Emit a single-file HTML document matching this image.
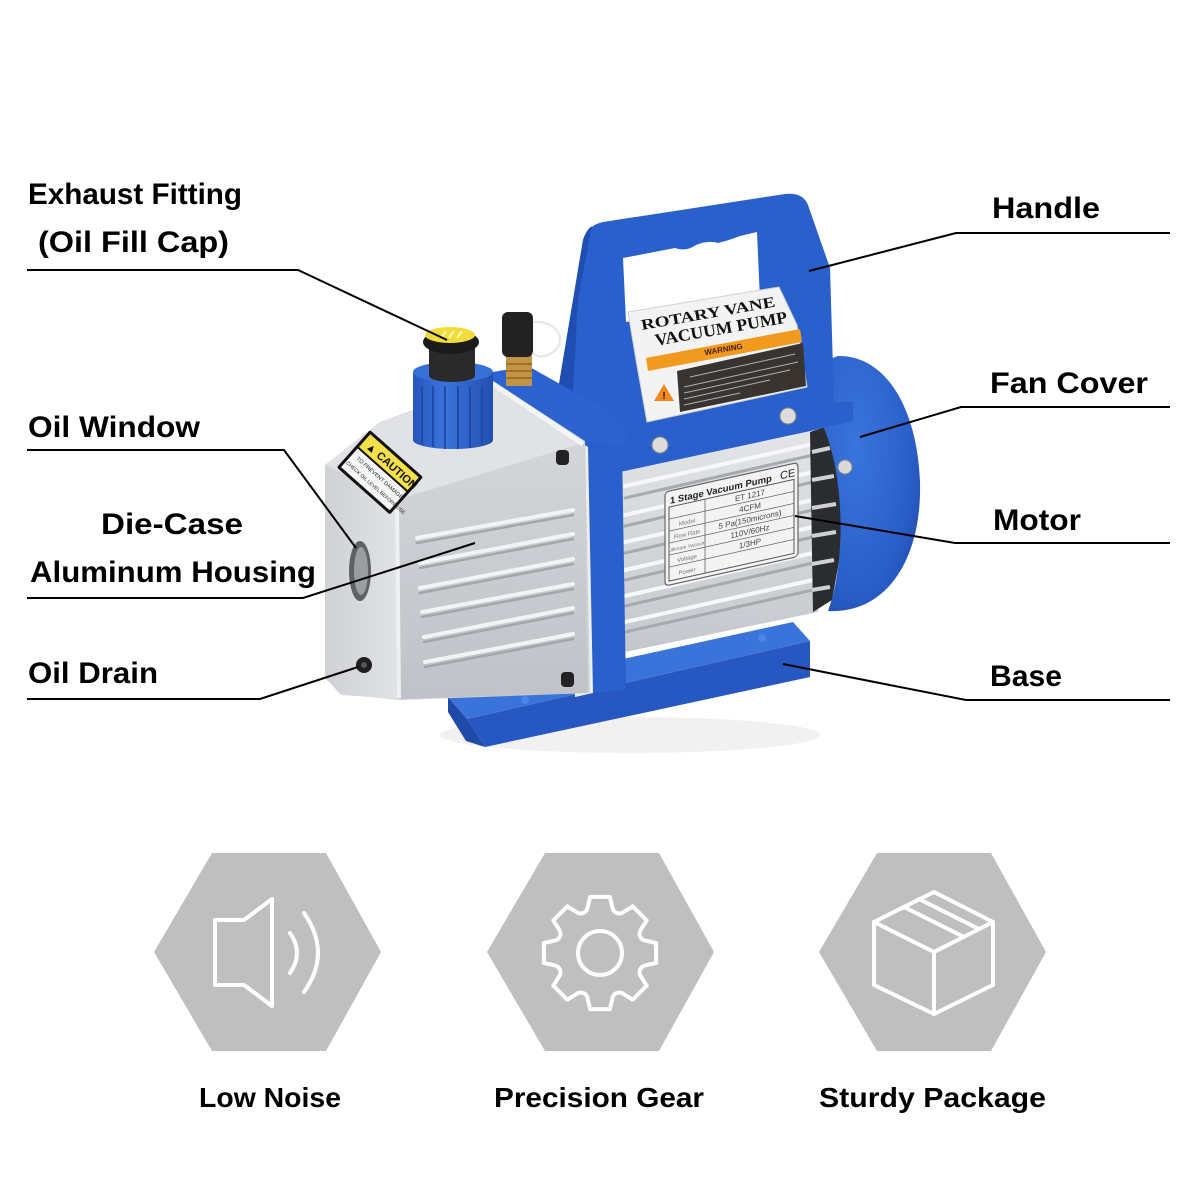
<!DOCTYPE html>
<html><head><meta charset="utf-8"><style>
html,body{margin:0;padding:0;background:#fff;}
svg{display:block;}
text{font-family:"Liberation Sans",Arial,sans-serif;}
</style></head><body>
<svg width="1200" height="1200" viewBox="0 0 1200 1200" xmlns="http://www.w3.org/2000/svg">
<defs>
<linearGradient id="motorG" x1="0" y1="0" x2="0" y2="1"><stop offset="0" stop-color="#e4e5e8"/><stop offset="1" stop-color="#c4c7cc"/></linearGradient>
<linearGradient id="sideG" x1="0" y1="0" x2="0" y2="1"><stop offset="0" stop-color="#d3d5d9"/><stop offset="1" stop-color="#bfc2c7"/></linearGradient>
<linearGradient id="endG" x1="0" y1="0" x2="1" y2="0"><stop offset="0" stop-color="#cfd1d5"/><stop offset="1" stop-color="#e2e3e6"/></linearGradient>
<radialGradient id="fanG" cx="0.35" cy="0.35" r="0.8"><stop offset="0" stop-color="#3a74dc"/><stop offset="0.7" stop-color="#2a5fca"/><stop offset="1" stop-color="#1e4da9"/></radialGradient>
<linearGradient id="capG" x1="0" y1="0" x2="1" y2="0"><stop offset="0" stop-color="#2656bd"/><stop offset="0.4" stop-color="#3a74dc"/><stop offset="1" stop-color="#234fb0"/></linearGradient>
</defs>
<rect width="1200" height="1200" fill="#fff"/>

<!-- BASE -->
<ellipse cx="630" cy="735" rx="190" ry="18" fill="#f1f1f1"/>
<polygon points="448,697 793,622 810,641 467,719" fill="#3a74da"/>
<polygon points="467,719 810,641 810,677 485,747" fill="#2757c0"/>
<polygon points="448,697 467,719 485,747 466,741 448,712" fill="#1f4aa8"/>
<circle cx="525" cy="700" r="4" fill="#4a84e6"/>
<circle cx="762" cy="638" r="4" fill="#4a84e6"/>

<!-- MOTOR -->
<polygon points="620,470 815,428 818,612 625,652" fill="url(#motorG)"/>
<g stroke-linecap="round">
<line x1="625" y1="486" x2="813" y2="444" stroke="#f6f7f8" stroke-width="4"/>
<line x1="625" y1="498" x2="813" y2="455" stroke="#a6a9ae" stroke-width="3"/>
<line x1="625" y1="515" x2="813" y2="472" stroke="#f6f7f8" stroke-width="4"/>
<line x1="625" y1="526" x2="813" y2="482" stroke="#a6a9ae" stroke-width="3"/>
<line x1="625" y1="542" x2="813" y2="500" stroke="#f6f7f8" stroke-width="4"/>
<line x1="625" y1="553" x2="813" y2="510" stroke="#a6a9ae" stroke-width="3"/>
<line x1="625" y1="570" x2="813" y2="527" stroke="#f6f7f8" stroke-width="4"/>
<line x1="625" y1="580" x2="813" y2="537" stroke="#a6a9ae" stroke-width="3"/>
<line x1="625" y1="596" x2="813" y2="553" stroke="#f6f7f8" stroke-width="4"/>
<line x1="625" y1="606" x2="813" y2="563" stroke="#a6a9ae" stroke-width="3"/>
<line x1="625" y1="622" x2="813" y2="580" stroke="#f6f7f8" stroke-width="4"/>
<line x1="625" y1="632" x2="813" y2="590" stroke="#a6a9ae" stroke-width="3"/>
</g>
<!-- dark gap -->
<polygon points="810,432 828,426 842,480 843,540 832,600 813,612" fill="#2b2c30"/>
<g stroke="#cfd1d4" stroke-width="4">
<line x1="812" y1="452" x2="830" y2="448"/><line x1="812" y1="480" x2="834" y2="476"/>
<line x1="812" y1="508" x2="836" y2="504"/><line x1="812" y1="536" x2="836" y2="532"/>
<line x1="812" y1="564" x2="834" y2="560"/><line x1="812" y1="590" x2="830" y2="587"/>
</g>

<!-- FAN COVER -->
<path d="M 822 424 C 844 470, 847 560, 828 611 C 886 614, 922 560, 920 482 C 917 405, 884 355, 838 356 L 822 362 Z" fill="url(#fanG)"/>
<circle cx="845" cy="467" r="7" fill="#d9d9d9" stroke="#8a8a8a" stroke-width="1"/>

<!-- HANDLE -->
<path d="M 556 445 L 558 390 L 583 240 Q 588 225 603 222 L 785 194 Q 803 192 808 205 L 830 268 L 834 402 L 853 402 L 853 421 L 815 430 L 620 472 L 592 446 Z" fill="#2a60cc"/>
<path d="M 556 445 L 558 390 L 583 240 Q 586 230 592 226 L 578 300 L 570 445 Z" fill="#1f4fb3"/>
<path d="M 623 258 L 675 248 Q 686 252 696 245 Q 708 240 718 243 Q 730 240 740 236 L 757 232 L 760 300 L 626 322 Z" fill="#fff"/>
<!-- label on handle -->
<polygon points="628,312 779,287 797,325 807,387 647,422 636,360" fill="#f3f3f3" stroke="#d0d0d0" stroke-width="1"/>
<g transform="translate(642,330) rotate(-10)">
<text x="0" y="0" font-family="Liberation Serif,serif" font-weight="bold" font-size="15" textLength="136" lengthAdjust="spacingAndGlyphs" fill="#111" style="font-family:'Liberation Serif',serif">ROTARY VANE</text>
<text x="11" y="18" font-family="Liberation Serif,serif" font-weight="bold" font-size="17" textLength="134" lengthAdjust="spacingAndGlyphs" fill="#111" style="font-family:'Liberation Serif',serif">VACUUM PUMP</text>
</g>
<polygon points="646,358 800,329 802,342 648,371" fill="#f29a1f"/>
<text transform="translate(724,352) rotate(-10)" text-anchor="middle" font-size="8" font-weight="bold" fill="#4a2000">WARNING</text>
<polygon points="677,371 803,343 806,386 680,412" fill="#3a3431"/>
<g stroke="#cfcfcf" stroke-width="1" opacity="0.8">
<line x1="690" y1="377" x2="795" y2="354"/><line x1="684" y1="387" x2="798" y2="362"/>
<line x1="684" y1="393" x2="790" y2="370"/><line x1="684" y1="399" x2="770" y2="380"/>
<line x1="684" y1="405" x2="740" y2="393"/>
</g>
<polygon points="664,384 674,401 654,401" fill="#f08a1c"/>
<text x="664" y="399" text-anchor="middle" font-size="10" font-weight="bold" fill="#111">!</text>
<!-- screws -->
<circle cx="660" cy="445" r="8" fill="#dcdcdc" stroke="#8a8a8a" stroke-width="1"/>
<circle cx="788" cy="416" r="8" fill="#dcdcdc" stroke="#8a8a8a" stroke-width="1"/>

<!-- MOTOR LABEL -->
<g transform="translate(665,492) skewY(-12.5)">
<rect x="0" y="0" width="133" height="94" rx="4" fill="#f3f3f3" stroke="#666" stroke-width="1.2"/>
<rect x="4" y="16" width="125" height="74" fill="none" stroke="#555" stroke-width="1"/>
<text x="5" y="13" font-size="9.5" font-weight="bold" fill="#222">1 Stage Vacuum Pump</text>
<text x="115" y="13" font-size="11" fill="#222">CE</text>
<g stroke="#666" stroke-width="0.8">
<line x1="4" y1="28" x2="129" y2="28"/><line x1="4" y1="40" x2="129" y2="40"/>
<line x1="4" y1="52" x2="129" y2="52"/><line x1="4" y1="64" x2="129" y2="64"/>
<line x1="4" y1="76" x2="129" y2="76"/><line x1="40" y1="16" x2="40" y2="90"/>
</g>
<g font-size="6" fill="#777" text-anchor="middle">
<text x="22" y="37">Model</text><text x="22" y="49">Flow Rate</text>
<text x="22" y="61" font-size="5">Ultimate Vacuum</text><text x="22" y="73">Voltage</text><text x="22" y="86">Power</text>
</g>
<g font-size="8" fill="#444" text-anchor="middle">
<text x="85" y="25">ET 1217</text><text x="85" y="37">4CFM</text>
<text x="85" y="49">5 Pa(150microns)</text><text x="85" y="61">110V/60Hz</text><text x="85" y="73">1/3HP</text>
</g>
</g>

<!-- BLUE END PLATE -->
<polygon points="493,372 528,366 606,410 627,432 622,447 587,441 493,385" fill="#2d63d0"/>
<polygon points="587,440 622,447 626,690 592,693" fill="#2a60cc"/>
<polygon points="570,445 588,447 593,693 575,697" fill="#eceef0"/>

<!-- HOUSING -->
<polygon points="325,465 380,422 493,381 585,441 590,693 400,700 340,694 325,677" fill="#cfd1d5"/>
<polygon points="325,465 380,422 493,383 583,443 397,500" fill="#e1e2e5"/>
<polygon points="397,500 583,443 588,693 399,699" fill="url(#sideG)"/>
<polygon points="325,465 397,500 399,699 342,695 325,678" fill="url(#endG)"/>
<line x1="397" y1="500" x2="399" y2="698" stroke="#eef0f2" stroke-width="4"/>
<line x1="493" y1="384" x2="583" y2="444" stroke="#f3f4f6" stroke-width="5"/>
<g stroke-linecap="round">
<line x1="417" y1="538" x2="573" y2="510" stroke="#f2f3f5" stroke-width="4"/>
<line x1="417" y1="543" x2="573" y2="515" stroke="#a3a6ab" stroke-width="2.5"/>
<line x1="420" y1="563" x2="573" y2="534" stroke="#f2f3f5" stroke-width="4"/>
<line x1="420" y1="568" x2="573" y2="539" stroke="#a3a6ab" stroke-width="2.5"/>
<line x1="420" y1="588" x2="573" y2="559" stroke="#f2f3f5" stroke-width="4"/>
<line x1="420" y1="593" x2="573" y2="564" stroke="#a3a6ab" stroke-width="2.5"/>
<line x1="422" y1="612" x2="573" y2="584" stroke="#f2f3f5" stroke-width="4"/>
<line x1="422" y1="617" x2="573" y2="589" stroke="#a3a6ab" stroke-width="2.5"/>
<line x1="424" y1="637" x2="573" y2="608" stroke="#f2f3f5" stroke-width="4"/>
<line x1="424" y1="642" x2="573" y2="613" stroke="#a3a6ab" stroke-width="2.5"/>
<line x1="425" y1="662" x2="573" y2="634" stroke="#f2f3f5" stroke-width="4"/>
<line x1="425" y1="667" x2="573" y2="639" stroke="#a3a6ab" stroke-width="2.5"/>
</g>
<!-- screws on housing -->
<rect x="556" y="450" width="13" height="15" rx="4" fill="#222"/>
<rect x="561" y="672" width="13" height="15" rx="4" fill="#222"/>
<!-- caution label -->
<g transform="translate(370,430) rotate(41.6)">
<rect x="0" y="0" width="71" height="50" rx="2" fill="#111"/>
<rect x="3" y="3" width="65" height="17" fill="#f4e04a"/>
<text x="8" y="16" font-size="11" font-weight="bold" fill="#111">▲ CAUTION</text>
<rect x="3" y="22" width="65" height="25" fill="#f7f7f7"/>
<text x="9" y="31" font-size="5.5" fill="#222">TO PREVENT DAMAGE</text>
<text x="4" y="41" font-size="5" fill="#222">CHECK OIL LEVEL BEFORE USE</text>
</g>
<!-- oil window -->
<ellipse cx="360" cy="571" rx="11" ry="30" fill="#5f6164"/>
<ellipse cx="361" cy="571" rx="7" ry="24" fill="#9a9da1"/>
<!-- oil drain -->
<circle cx="364" cy="665" r="8" fill="#1e1e1e"/>
<circle cx="364" cy="665" r="3" fill="#555"/>

<!-- OIL CAP -->
<path d="M 413 372 L 413 440 A 40 9 0 0 0 493 440 L 493 372 Z" fill="url(#capG)"/>
<ellipse cx="453" cy="372" rx="40" ry="10" fill="#3670d8"/>
<g stroke="#1f4aa6" stroke-width="2">
<line x1="422" y1="386" x2="422" y2="444"/><line x1="433" y1="386" x2="433" y2="447"/>
<line x1="445" y1="386" x2="445" y2="449"/><line x1="458" y1="386" x2="458" y2="449"/>
<line x1="470" y1="386" x2="470" y2="448"/><line x1="482" y1="386" x2="482" y2="445"/>
</g>
<rect x="429" y="342" width="46" height="34" fill="#2a2a2a"/>
<ellipse cx="452" cy="376" rx="23" ry="6" fill="#2a2a2a"/>
<ellipse cx="451" cy="342" rx="28" ry="12" fill="#1b1b1b"/>
<ellipse cx="450" cy="335" rx="25" ry="8" fill="#f2dc3c"/>
<g stroke="#fff6b0" stroke-width="2"><line x1="441" y1="338" x2="446" y2="331"/><line x1="449" y1="338" x2="454" y2="331"/><line x1="457" y1="338" x2="462" y2="331"/></g>
<!-- brass fitting -->
<rect x="506" y="355" width="26" height="31" fill="#c39447"/>
<g stroke="#8d6421" stroke-width="1.5"><line x1="506" y1="364" x2="532" y2="364"/><line x1="506" y1="371" x2="532" y2="371"/><line x1="506" y1="378" x2="532" y2="378"/></g>
<rect x="502" y="312" width="31" height="45" rx="6" fill="#222"/>
<path d="M 533 322 C 560 320, 570 345, 548 355 C 540 358, 535 356, 533 352" fill="none" stroke="#e6e6e6" stroke-width="2"/>

<!-- LEADER LINES -->
<g fill="none" stroke="#000" stroke-width="2">
<polyline points="27,270 298,270 447,340"/>
<polyline points="27,450 284,450 356,548"/>
<polyline points="27,598 303,598 475,543"/>
<polyline points="27,699 260,699 358,667"/>
<polyline points="1170,233 956,233 809,271"/>
<polyline points="1170,407 961,407 860,437"/>
<polyline points="1170,543 955,543 795,516"/>
<polyline points="1170,700 966,700 783,664"/>
</g>

<!-- LABEL TEXT -->
<g font-size="30" font-weight="bold" fill="#000" lengthAdjust="spacingAndGlyphs">
<text x="28" y="204" textLength="214" lengthAdjust="spacingAndGlyphs">Exhaust Fitting</text>
<text x="38" y="252" textLength="191" lengthAdjust="spacingAndGlyphs">(Oil Fill Cap)</text>
<text x="28" y="437" textLength="172" lengthAdjust="spacingAndGlyphs">Oil Window</text>
<text x="101" y="534" textLength="142" lengthAdjust="spacingAndGlyphs">Die-Case</text>
<text x="30" y="582" textLength="286" lengthAdjust="spacingAndGlyphs">Aluminum Housing</text>
<text x="28" y="683" textLength="130" lengthAdjust="spacingAndGlyphs">Oil Drain</text>
<text x="992" y="218" textLength="108" lengthAdjust="spacingAndGlyphs">Handle</text>
<text x="990" y="393" textLength="158" lengthAdjust="spacingAndGlyphs">Fan Cover</text>
<text x="993" y="530" textLength="88" lengthAdjust="spacingAndGlyphs">Motor</text>
<text x="990" y="686" textLength="72" lengthAdjust="spacingAndGlyphs">Base</text>
</g>

<!-- HEXAGONS -->
<g fill="#bfbfbf">
<polygon points="154,952 212,853 326,853 381,952 326,1051 212,1051"/>
<polygon points="487,952 545,853 659,853 714,952 659,1051 545,1051"/>
<polygon points="819,952 877,853 991,853 1046,952 991,1051 877,1051"/>
</g>
<g fill="none" stroke="#fff" stroke-width="4" stroke-linejoin="round" stroke-linecap="round">
<!-- speaker -->
<path d="M 215 920 L 244 920 L 272 899 L 272 1006 L 244 985 L 215 985 Z"/>
<path d="M 290 933 Q 304 953 290 973"/>
<path d="M 304 913 Q 332 953 304 992"/>
<!-- gear -->
<path d="M 587.3 908.8 L 590.1 896.9 L 609.9 896.9 L 612.7 908.8 A 7 7 0 0 0 622.3 912.8 L 632.7 906.3 L 646.7 920.3 L 640.2 930.7 A 7 7 0 0 0 644.2 940.3 L 656.1 943.1 L 656.1 962.9 L 644.2 965.7 A 7 7 0 0 0 640.2 975.3 L 646.7 985.7 L 632.7 999.7 L 622.3 993.2 A 7 7 0 0 0 612.7 997.2 L 609.9 1009.1 L 590.1 1009.1 L 587.3 997.2 A 7 7 0 0 0 577.7 993.2 L 567.3 999.7 L 553.3 985.7 L 559.8 975.3 A 7 7 0 0 0 555.8 965.7 L 543.9 962.9 L 543.9 943.1 L 555.8 940.3 A 7 7 0 0 0 559.8 930.7 L 553.3 920.3 L 567.3 906.3 L 577.7 912.8 A 7 7 0 0 0 587.3 908.8 Z"/>
<circle cx="600" cy="953" r="22"/>
<!-- box -->
<path d="M 934 892 L 993 922 L 993 985 L 934 1014 L 874 985 L 874 922 Z"/>
<path d="M 874 922 L 934 952 L 993 922"/>
<path d="M 934 952 L 934 1014"/>
<path d="M 904 907 L 964 937"/>
<path d="M 919 899 L 979 929"/>
</g>
<g font-size="28" font-weight="bold" fill="#000">
<text x="199" y="1107" textLength="142" lengthAdjust="spacingAndGlyphs">Low Noise</text>
<text x="494" y="1107" textLength="210" lengthAdjust="spacingAndGlyphs">Precision Gear</text>
<text x="819" y="1107" textLength="227" lengthAdjust="spacingAndGlyphs">Sturdy Package</text>
</g>
</svg>
</body></html>
